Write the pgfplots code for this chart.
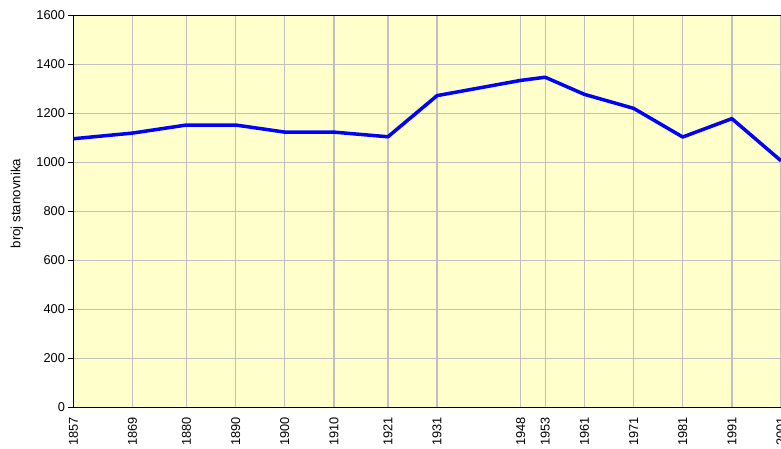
\documentclass[border=0pt]{standalone}
\usepackage{pgfplots}
\pgfplotsset{compat=1.18}
\usepackage{fontspec}
\setmainfont{Liberation Sans}
\definecolor{bgyellow}{HTML}{FFFFCC}
\definecolor{gridgray}{HTML}{C0C0C0}
\begin{document}
\begin{tikzpicture}[trim axis right]
\begin{axis}[
  scale only axis, width=707.5pt, height=392pt,
  xmin=1857, xmax=2001, ymin=0, ymax=1600,
  xtick=data, ytick={0,200,...,1600},
  axis x line=bottom, axis y line=left,
  axis line style={-, black, line width=1pt},
  axis background/.style={fill=bgyellow},
  grid=major, grid style={draw=gridgray, line width=1.3pt},
  xtick style={draw=none},
  ytick style={draw=black, line width=0.8pt},
  tick align=outside, major tick length=5pt,
  /pgf/number format/1000 sep={},
  /pgf/number format/assume math mode=true,
  tick label style={font=\fontsize{12.8}{14}\selectfont},
  xticklabel style={rotate=90, anchor=east},
  xticklabel shift=1pt,
  yticklabel shift=0pt,
  clip=false,
  ylabel={broj stanovnika},
  ylabel style={font=\fontsize{13.3}{15}\selectfont, at={(axis description cs:0,0.5)}, anchor=center, rotate=0, yshift=56.5pt, xshift=8pt},
]
\addplot[color=blue, line width=3.5pt, line join=round] coordinates {
(1857,1097) (1869,1120) (1880,1153) (1890,1153) (1900,1124) (1910,1124)
(1921,1105) (1931,1273) (1948,1335) (1953,1348) (1961,1278) (1971,1221)
(1981,1104) (1991,1179) (2001,1007)
};
\draw[black, line width=1pt] (rel axis cs:0,1) -- (rel axis cs:1,1);
\path (rel axis cs:0,1) ++(-73.5pt,15.5pt) coordinate (tl);
\path (rel axis cs:0,0) ++(-73.5pt,-36.5pt) coordinate (bl);
\path (tl) -- (bl);
\end{axis}
\end{tikzpicture}
\end{document}
